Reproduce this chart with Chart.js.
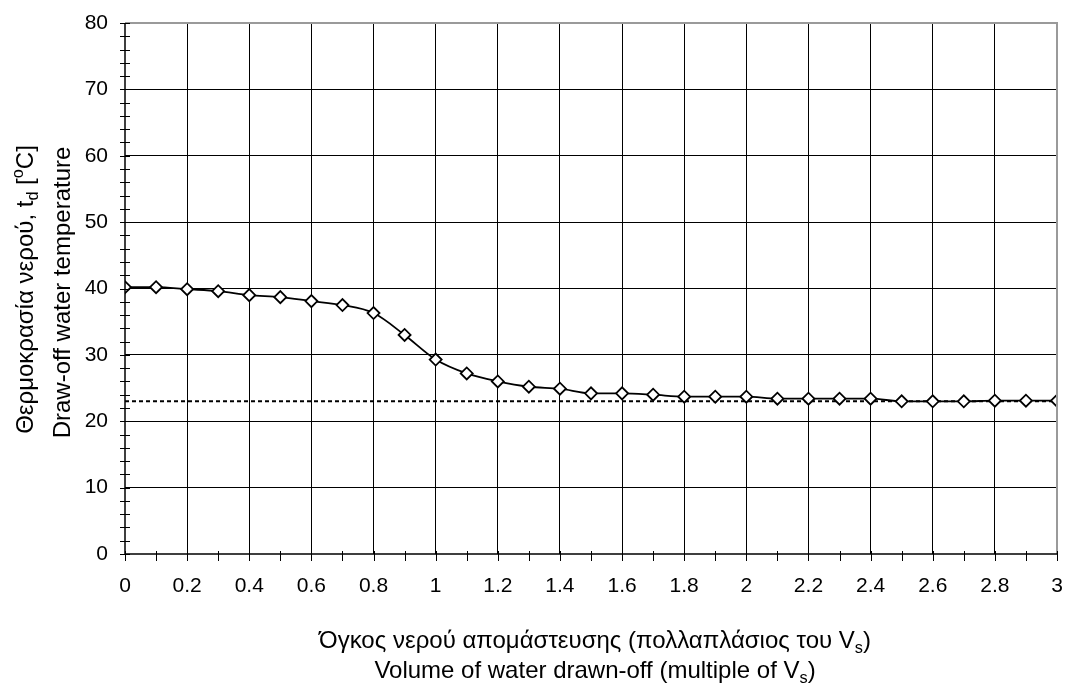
<!DOCTYPE html>
<html>
<head>
<meta charset="utf-8">
<script src="https://cdn.jsdelivr.net/npm/chart.js@4.4.0/dist/chart.umd.min.js"></script>
<style>
html,body{margin:0;padding:0;background:#fff;}
#wrap{width:1068px;height:688px;position:relative;}
</style>
</head>
<body>
<div id="wrap"><canvas id="c" width="1068" height="688"></canvas></div>
<script>
// ---- data ----
const volumes = [0,0.1,0.2,0.3,0.4,0.5,0.6,0.7,0.8,0.9,1.0,1.1,1.2,1.3,1.4,1.5,1.6,1.7,1.8,1.9,2.0,2.1,2.2,2.3,2.4,2.5,2.6,2.7,2.8,2.9,3.0];
const temperatures = [40.2,40.2,39.9,39.6,39.0,38.7,38.1,37.5,36.3,33.0,29.3,27.2,26.0,25.2,24.9,24.2,24.2,24.0,23.7,23.7,23.7,23.4,23.4,23.4,23.4,23.0,23.0,23.0,23.1,23.1,23.1];
const refLineX = [0, 3];
const refLineY = [23, 23];
const xTickLabels = ['0','0.2','0.4','0.6','0.8','1','1.2','1.4','1.6','1.8','2','2.2','2.4','2.6','2.8','3'];
const yTickLabels = ['0','10','20','30','40','50','60','70','80'];
const yTitleGreek = [{t:'Θερμοκρασία νερού, t'},{t:'d',sub:true},{t:' ['},{t:'o',sup:true},{t:'C]'}];
const yTitleEnglish = [{t:'Draw-off water temperature'}];
const xTitleGreek = [{t:'Όγκος νερού απομάστευσης (πολλαπλάσιος του V'},{t:'s',sub:true},{t:')'}];
const xTitleEnglish = [{t:'Volume of water drawn-off (multiple of V'},{t:'s',sub:true},{t:')'}];

const FONT = '"Liberation Sans", Arial, sans-serif';

function drawRich(ctx, segs, size) {
  let total = 0;
  const parts = segs.map(s => {
    const fs = (s.sub || s.sup) ? size * 0.68 : size;
    ctx.font = fs + 'px ' + FONT;
    const w = ctx.measureText(s.t).width;
    total += w;
    return {s, fs, w};
  });
  let x = -total / 2;
  ctx.textAlign = 'left';
  ctx.textBaseline = 'alphabetic';
  parts.forEach(p => {
    ctx.font = p.fs + 'px ' + FONT;
    let dy = 0;
    if (p.s.sub) dy = size * 0.22;
    if (p.s.sup) dy = -size * 0.42;
    ctx.fillText(p.s.t, x, dy);
    x += p.w;
  });
  return total;
}

const decor = {
  id: 'decor',
  afterDraw(chart) {
    const ctx = chart.ctx;
    const xs = chart.scales.x, ys = chart.scales.y;
    const a = chart.chartArea;
    ctx.save();
    ctx.strokeStyle = '#9a9a9a';
    ctx.lineWidth = 2;
    ctx.beginPath();
    ctx.moveTo(a.left, a.top);
    ctx.lineTo(a.right, a.top);
    ctx.lineTo(a.right, a.bottom);
    ctx.stroke();
    ctx.strokeStyle = '#000';
    ctx.lineWidth = 1.5;
    ctx.beginPath();
    ctx.moveTo(a.left, a.top);
    ctx.lineTo(a.left, a.bottom);
    ctx.lineTo(a.right, a.bottom);
    ctx.stroke();
    ctx.lineWidth = 1;
    ctx.beginPath();
    for (let v = 0; v <= 80.001; v += 2) {
      const py = Math.round(ys.getPixelForValue(v)) + 0.5;
      ctx.moveTo(a.left - 5, py);
      ctx.lineTo(a.left + 5, py);
    }
    for (let i = 0; i <= 30; i++) {
      const px = Math.round(xs.getPixelForValue(i / 10)) + 0.5;
      ctx.moveTo(px, a.bottom - 3);
      ctx.lineTo(px, a.bottom + 7);
    }
    ctx.stroke();
    ctx.fillStyle = '#000';
    const cy = (a.top + a.bottom) / 2 + 1;
    ctx.save(); ctx.translate(33, cy); ctx.rotate(-Math.PI / 2); drawRich(ctx, yTitleGreek, 24); ctx.restore();
    ctx.save(); ctx.translate(70, cy + 3); ctx.rotate(-Math.PI / 2); drawRich(ctx, yTitleEnglish, 24); ctx.restore();
    const cx = (a.left + a.right) / 2 + 4;
    ctx.save(); ctx.translate(cx, 648); drawRich(ctx, xTitleGreek, 24); ctx.restore();
    ctx.save(); ctx.translate(cx, 678); drawRich(ctx, xTitleEnglish, 24); ctx.restore();
    ctx.restore();
  }
};

new Chart(document.getElementById('c'), {
  type: 'line',
  data: {
    datasets: [
      {
        data: refLineX.map((x, i) => ({x, y: refLineY[i]})),
        borderColor: '#000', borderWidth: 2, borderDash: [4, 3],
        pointRadius: 0, fill: false, order: 2
      },
      {
        data: volumes.map((x, i) => ({x, y: temperatures[i]})),
        borderColor: '#000', borderWidth: 1.8,
        cubicInterpolationMode: 'monotone',
        pointStyle: 'rectRot', pointRadius: 6, pointBorderWidth: 1.8,
        pointBackgroundColor: '#fff', pointBorderColor: '#000',
        fill: false, order: 1
      }
    ]
  },
  options: {
    responsive: false, animation: false,
    devicePixelRatio: 1,
    layout: {padding: {top: 23, right: 11, left: 0, bottom: 0}},
    plugins: {legend: {display: false}, tooltip: {enabled: false}},
    scales: {
      x: {
        type: 'linear', min: 0, max: 3,
        afterFit(s) { s.height = 134; s.paddingLeft = 0; s.paddingRight = 0; },
        afterBuildTicks(s) { s.ticks = xTickLabels.map(l => ({value: parseFloat(l)})); },
        ticks: {
          callback: (v, i) => xTickLabels[i],
          color: '#000', font: {family: FONT, size: 21}, padding: 20,
          maxRotation: 0, autoSkip: false
        },
        grid: {
          color: c => (c.tick && c.tick.value > 0 && c.tick.value < 3) ? '#000' : 'rgba(0,0,0,0)',
          lineWidth: 1, drawTicks: false
        },
        border: {display: false}
      },
      y: {
        type: 'linear', min: 0, max: 80,
        afterFit(s) { s.width = 125; s.paddingTop = 0; s.paddingBottom = 0; },
        afterBuildTicks(s) { s.ticks = yTickLabels.map(l => ({value: parseFloat(l)})); },
        ticks: {
          callback: (v, i) => yTickLabels[i],
          color: '#000', font: {family: FONT, size: 21}, padding: 17
        },
        grid: {
          color: c => (c.tick && c.tick.value > 0 && c.tick.value < 80) ? '#000' : 'rgba(0,0,0,0)',
          lineWidth: 1, drawTicks: false
        },
        border: {display: false}
      }
    }
  },
  plugins: [decor]
});
</script>
</body>
</html>
